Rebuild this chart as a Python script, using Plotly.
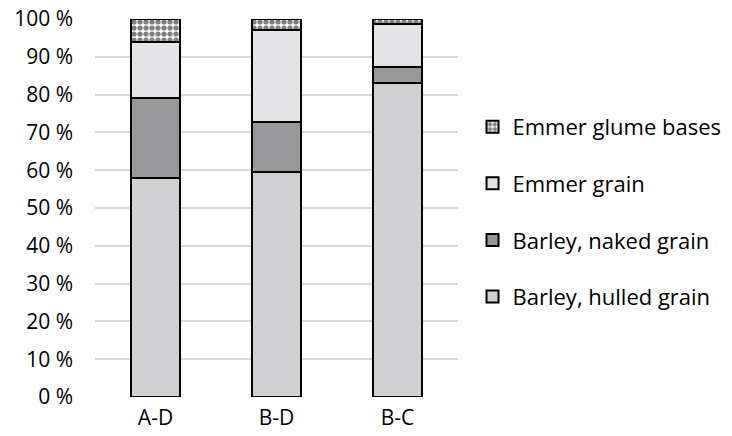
import plotly.graph_objects as go

categories = ["A-D", "B-D", "B-C"]
barley_hulled = [58.0, 59.4, 83.2]
barley_naked = [21.2, 13.4, 4.0]
emmer_grain = [14.6, 24.4, 11.6]
emmer_glume = [6.2, 2.8, 1.2]

series = [
    ("Barley, hulled grain", barley_hulled, "#d0d0d2", None),
    ("Barley, naked grain", barley_naked, "#98989a", None),
    ("Emmer grain", emmer_grain, "#e4e4e6", None),
    ("Emmer glume bases", emmer_glume, "#ffffff", "checker"),
]

fig = go.Figure()
for i, (name, vals, color, pat) in enumerate(series):
    marker = dict(color=color, line=dict(color="#000000", width=2))
    if pat:
        marker["pattern"] = dict(shape=".", fgcolor="#000000", bgcolor="#ffffff",
                                 size=6, solidity=0.6, fillmode="overlay")
    fig.add_trace(go.Bar(x=categories, y=vals, name=name, marker=marker,
                         width=0.41, legendgroup=f"g{i}", legendrank=10 - i))

fig.update_layout(
    barmode="stack",
    width=732, height=436,
    margin=dict(l=95, r=274, t=19, b=39, autoexpand=False),
    plot_bgcolor="#ffffff", paper_bgcolor="#ffffff",
    font=dict(family="Open Sans", size=21, color="#000000"),
    showlegend=True,
    legend=dict(x=1.04, xanchor="left", y=0.77, yanchor="top",
                traceorder="grouped", tracegroupgap=25,
                font=dict(size=22), itemwidth=30),
    yaxis=dict(range=[0, 100], dtick=10, ticksuffix=" %", showgrid=True,
               gridcolor="#d9d9d9", gridwidth=2, zeroline=False, showline=False,
               ticklabelstandoff=21, fixedrange=True, automargin=False,
               ticklabeloverflow="allow"),
    xaxis=dict(showgrid=False, showline=False, ticklabelstandoff=6, automargin=False),
    bargap=0.59,
)

fig.write_html("out.html", config={"displayModeBar": False},
               post_script="document.body.style.margin='0';")
